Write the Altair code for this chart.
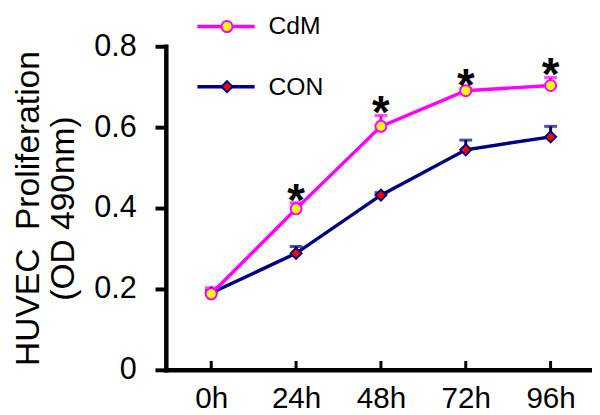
import altair as alt
import pandas as pd

times = ["0h", "24h", "48h", "72h", "96h"]
groups = ["CdM", "CON"]
cdm = [0.188, 0.398, 0.602, 0.690, 0.703]
cdm_err = [0.015, 0.015, 0.027, 0.006, 0.02]
con = [0.19, 0.288, 0.432, 0.544, 0.576]
con_err = [0.006, 0.017, 0.006, 0.024, 0.026]
sig = ["", "*", "*", "*", "*"]

line_colors = ["#FF00FF", "#000080"]
fill_colors = ["#FFFF00", "#FF0000"]
shapes = ["circle", "diamond"]

rows = []
for g, vals, errs in [("CON", con, con_err), ("CdM", cdm, cdm_err)]:
    for i, t in enumerate(times):
        rows.append({"idx": i, "time": t, "group": g, "value": vals[i],
                     "top": vals[i] + errs[i],
                     "sig": sig[i] if g == "CdM" else ""})
df = pd.DataFrame(rows)

W, H = 432, 328
font = "Liberation Sans"
NB = "\u00a0"

label_expr = "[" + ",".join("'%s'" % t for t in times) + "][datum.value]"
xs = alt.Scale(domain=[-0.535, 4.488], nice=False, zero=False)
ys = alt.Scale(domain=[0, 0.8], nice=False)
x = alt.X("idx:Q", scale=xs,
          axis=alt.Axis(values=list(range(len(times))), labelExpr=label_expr,
                        ticks=False, grid=False, title=None, labelFontSize=30,
                        labelPadding=14, domainWidth=4.5, domainColor="black",
                        labelColor="black", labelFont=font))
y_axis = alt.Axis(values=[0, 0.2, 0.4, 0.6, 0.8],
                  labelExpr="datum.value == 0 ? '0' : format(datum.value, '.1f')",
                  grid=False,
                  title=["HUVEC" + NB + NB + "Proliferation", "(OD" + NB + "490nm)" + NB * 6],
                  titleFontSize=34, titleFontWeight="normal", titleFont=font,
                  titleColor="black", titlePadding=13, titleLineHeight=36,
                  labelFontSize=31, labelFont=font, labelColor="black",
                  labelPadding=19, tickSize=11, tickWidth=4, tickColor="black",
                  domainWidth=4.5, domainColor="black")
y = alt.Y("value:Q", scale=ys, axis=y_axis)

color = alt.Color("group:N", scale=alt.Scale(domain=groups, range=line_colors), legend=None)
stroke = alt.Stroke("group:N", scale=alt.Scale(domain=groups, range=line_colors), legend=None)
fill = alt.Fill("group:N", scale=alt.Scale(domain=groups, range=fill_colors), legend=None)
shape = alt.Shape("group:N", scale=alt.Scale(domain=groups, range=shapes), legend=None)

base = alt.Chart(df)

lines = base.mark_line(strokeWidth=3.5).encode(x=x, y=y, color=color, detail="group:N")
err = base.mark_rule(strokeWidth=3).encode(x="idx:Q", y="value:Q", y2="top:Q", color=color)
caps = base.mark_tick(orient="horizontal", size=13, thickness=3).encode(
    x="idx:Q", y="top:Q", color=color)
pts = base.mark_point(size=125, strokeWidth=2, opacity=1, fillOpacity=1).encode(
    x="idx:Q", y="value:Q", stroke=stroke, fill=fill, shape=shape)
stars = base.transform_filter("datum.group == 'CdM'").mark_text(
    fontSize=46, font=font, fontWeight="bold", color="black", baseline="alphabetic", dy=13).encode(
    x="idx:Q", y="top:Q", text="sig:N")

xticks = alt.Chart(pd.DataFrame({"idx": list(range(len(times)))})).mark_rule(
    strokeWidth=3, color="black").encode(x="idx:Q", y=alt.value(H), y2=alt.value(H - 9))

leg = pd.DataFrame({"group": groups, "ly": [-20, 41]})
lb = alt.Chart(leg)
leg_line = lb.mark_rule(strokeWidth=3.5).encode(
    x=alt.value(32), x2=alt.value(90), y=alt.Y("ly:Q", scale=None), color=color)
leg_pt = lb.mark_point(size=125, strokeWidth=2, opacity=1, fillOpacity=1).encode(
    x=alt.value(62), y=alt.Y("ly:Q", scale=None), stroke=stroke, fill=fill, shape=shape)
leg_txt = lb.mark_text(fontSize=25, font=font, color="black", align="left", baseline="middle").encode(
    x=alt.value(104), y=alt.Y("ly:Q", scale=None), text="group:N")

chart = alt.layer(lines, err, caps, pts, stars, xticks, leg_line, leg_pt, leg_txt).properties(
    width=W, height=H,
    autosize=alt.AutoSizeParams(type="none"),
    padding={"left": 160, "top": 36, "right": 0, "bottom": 43},
).configure_view(stroke=None).configure_axis(domainCap="square")

chart.save("out.html", embed_options={"renderer": "svg", "actions": False})
